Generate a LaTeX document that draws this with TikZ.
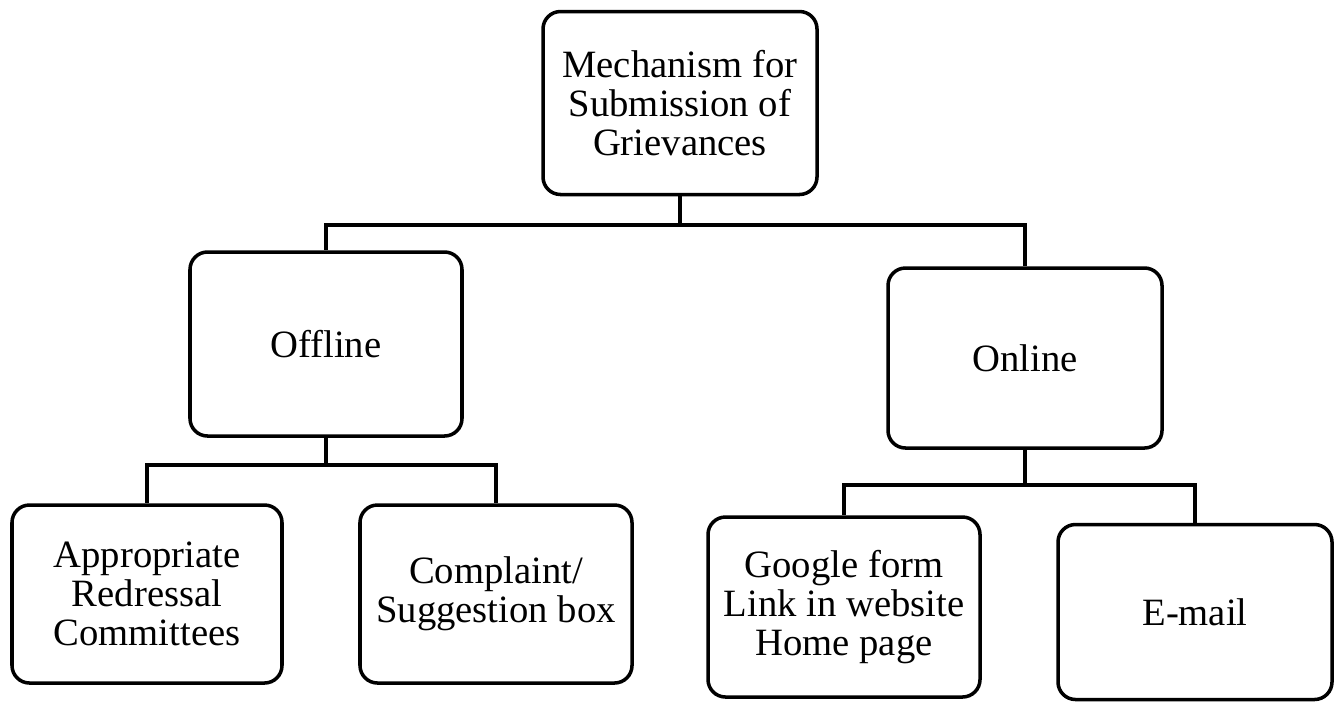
\documentclass[tikz,border=0pt]{standalone}
\usepackage{fontspec}
\setmainfont{Liberation Serif}
\usepackage{tikz}
\usetikzlibrary{positioning}

\tikzset{
	blockbox/.style={draw, line width=2pt, rounded corners=0.35cm, align=center,
		font=\fontsize{22}{22}\selectfont, inner sep=2pt},
	wire/.style={line width=1.8pt}
}

\begin{document}
\begin{tikzpicture}
	\useasboundingbox (0, 0) rectangle (26.82, -14.1);
	% Boxes:
	\node[blockbox, minimum width=5.48cm, minimum height=3.66cm](Mech) at (13.6, -2.06){Mechanism for\\Submission of\\Grievances};
	\node[blockbox, minimum width=5.44cm, minimum height=3.68cm](Offl) at (6.52, -6.88){Offline};
	\node[blockbox, minimum width=5.48cm, minimum height=3.6cm](Onl) at (20.5, -7.16){Online};
	\node[blockbox, minimum width=5.4cm, minimum height=3.56cm](Appr) at (2.94, -11.88){Appropriate\\Redressal\\Committees};
	\node[blockbox, minimum width=5.44cm, minimum height=3.56cm](Compl) at (9.92, -11.88){Complaint/\\Suggestion box};
	\node[blockbox, minimum width=5.44cm, minimum height=3.6cm](Gform) at (16.88, -12.14){Google form\\Link in website\\Home page};
	\node[blockbox, minimum width=5.48cm, minimum height=3.5cm](Email) at (23.9, -12.24){E-mail};
	% Wires:
	\coordinate (B1) at (13.6, -4.5);
	\coordinate (B2) at (6.52, -9.3);
	\coordinate (B3) at (20.5, -9.7);
	\draw[wire] (Mech.south) -- (B1);
	\draw[wire] (B1) -| (Offl.north);
	\draw[wire] (B1) -| (Onl.north);
	\draw[wire] (Offl.south) -- (B2);
	\draw[wire] (B2) -| (Appr.north);
	\draw[wire] (B2) -| (Compl.north);
	\draw[wire] (Onl.south) -- (B3);
	\draw[wire] (B3) -| (Gform.north);
	\draw[wire] (B3) -| (Email.north);
\end{tikzpicture}
\end{document}
